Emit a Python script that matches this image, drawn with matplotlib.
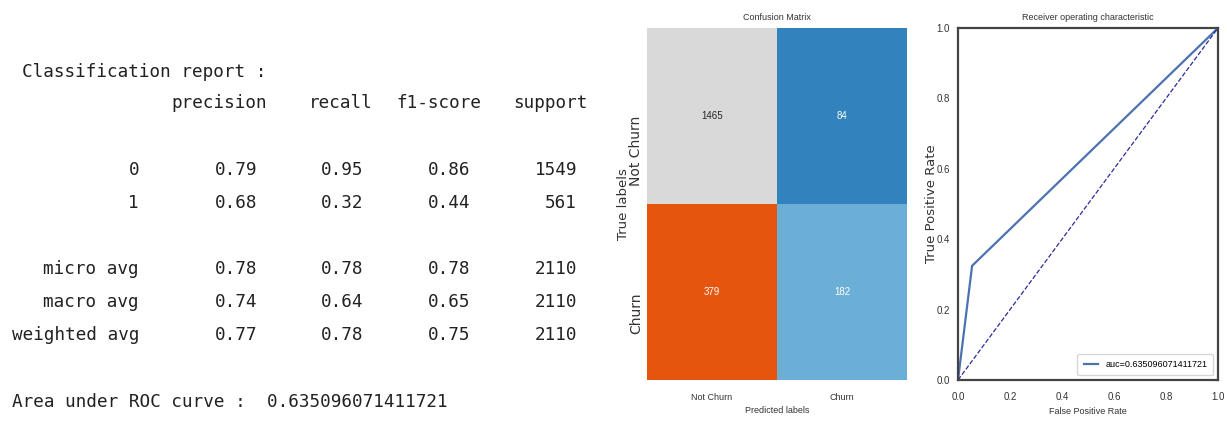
import numpy as np
import matplotlib
matplotlib.use("Agg")
import matplotlib.pyplot as plt
import seaborn as sns

# classification report rows
report_cols = ["precision", "recall", "f1-score", "support"]
row_labels = ["0", "1", "micro avg", "macro avg", "weighted avg"]
precision = [0.79, 0.68, 0.78, 0.74, 0.77]
recall = [0.95, 0.32, 0.78, 0.64, 0.78]
f1_score = [0.86, 0.44, 0.78, 0.65, 0.75]
support = [1549, 561, 2110, 2110, 2110]
auc_value = "0.635096071411721"

# confusion matrix
class_names = ["Not Churn", "Churn"]
conf_mat = [[1465, 84], [379, 182]]

# roc curve
fpr = [0.0, 0.0542, 1.0]
tpr = [0.0, 0.3244, 1.0]

W, H = 1227, 421
fig = plt.figure(figsize=(W / 100, H / 100), dpi=100)
fig.patch.set_facecolor("white")

narrow = ["Liberation Sans Narrow", "Liberation Sans", "DejaVu Sans"]
mono = dict(family="DejaVu Sans Mono", fontsize=12.7, color="#222222", va="center")


def put(x, y, s, ha="right", **kw):
    opts = dict(mono)
    opts.update(kw)
    fig.text(x / W, 1 - y / H, s, ha=ha, **opts)


# --- text report ---
put(22, 72, "Classification report :", ha="left")
col_right = [267, 373, 481, 588]
for x, name in zip(col_right, report_cols):
    put(x, 103, name)

row_y = [170, 203, 269, 302, 335]
val_right = [257, 363, 470, 577]
for i, lab in enumerate(row_labels):
    y = row_y[i]
    put(139, y, lab)
    put(val_right[0], y, f"{precision[i]:.2f}")
    put(val_right[1], y, f"{recall[i]:.2f}")
    put(val_right[2], y, f"{f1_score[i]:.2f}")
    put(val_right[3], y, f"{support[i]}")

put(12, 402, "Area under ROC curve :  " + auc_value, ha="left")

# --- confusion matrix ---
ax1 = fig.add_axes([647 / W, 41 / H, 260 / W, 352 / H])
sns.heatmap(np.array(conf_mat), annot=True, fmt="d", cmap="tab20c", cbar=False,
            ax=ax1, annot_kws={"fontsize": 7, "family": narrow})
ax1.set_title("Confusion Matrix", fontsize=6.5, family=narrow, color="#333333", pad=6)
ax1.set_xlabel("Predicted labels", fontsize=6.5, family=narrow, color="#333333", labelpad=3)
ax1.set_ylabel("True labels", fontsize=9.5, color="#333333", labelpad=-1)
ax1.set_xticklabels(class_names, fontsize=6.5, family=narrow, color="#333333")
ax1.set_yticklabels(class_names, fontsize=10, rotation=90, va="top", color="#333333")
ax1.tick_params(length=0, pad=9)
ax1.tick_params(axis="y", pad=3)

# --- roc curve ---
ax2 = fig.add_axes([958 / W, 41 / H, 260 / W, 352 / H])
ax2.plot(fpr, tpr, color="#4c72b0", lw=1.6, label="auc=" + auc_value)
ax2.plot([0, 1], [0, 1], color="#2a2a9a", lw=0.9, ls="--")
ax2.set_xlim(0, 1)
ax2.set_ylim(0, 1)
ax2.set_xticks(np.arange(0, 1.01, 0.2))
ax2.set_yticks(np.arange(0, 1.01, 0.2))
for lbl in ax2.get_xticklabels() + ax2.get_yticklabels():
    lbl.set_fontsize(7)
    lbl.set_family(narrow)
    lbl.set_color("#333333")
ax2.tick_params(axis="x", length=0, pad=9)
ax2.tick_params(axis="y", length=0, pad=6)
ax2.set_title("Receiver operating characteristic", fontsize=6.5, family=narrow,
              color="#333333", pad=6)
ax2.set_xlabel("False Positive Rate", fontsize=6.5, family=narrow, color="#333333", labelpad=3)
ax2.set_ylabel("True Positive Rate", fontsize=9.5, color="#333333", labelpad=-1)
for sp in ax2.spines.values():
    sp.set_color("#444444")
    sp.set_linewidth(1.6)
leg = ax2.legend(loc="lower right", prop={"size": 6.5, "family": narrow}, frameon=True,
                 fancybox=True, handlelength=1.6, borderpad=0.7)
leg.get_frame().set_edgecolor("#cccccc")

fig.savefig("out.png", dpi=100, facecolor="white")
